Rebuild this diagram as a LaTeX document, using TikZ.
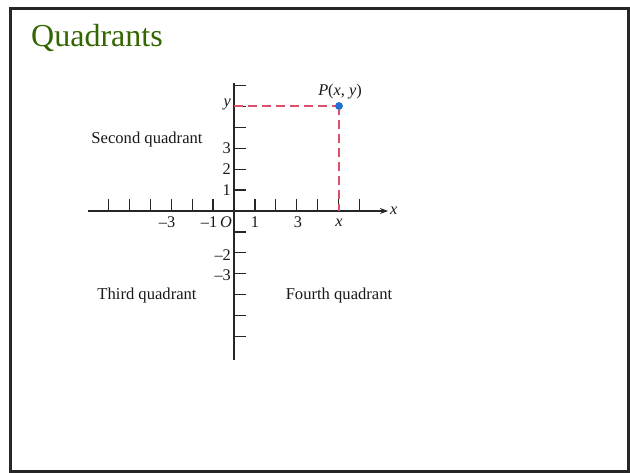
\documentclass[tikz,border=0pt]{standalone}
\usepackage{fontspec}
\setmainfont{Liberation Serif}
\usetikzlibrary{arrows.meta}
\definecolor{titlegreen}{RGB}{51,102,0}
\definecolor{dashred}{RGB}{220,80,105}
\definecolor{dotblue}{RGB}{35,110,210}
\begin{document}
\begin{tikzpicture}[x=1pt,y=-1pt,
  axisline/.style={line width=1.4pt, black!85},
  tickline/.style={line width=1.3pt, black!85},
  dashline/.style={line width=1.3pt, dashred, dash pattern=on 9pt off 5pt},
  lbl/.style={font=\fontsize{16.6}{19}\selectfont, inner sep=0, text=black!90},
  num/.style={font=\fontsize{16.3}{18}\selectfont, inner sep=0, text=black!90},
]
\useasboundingbox (0,0) rectangle (630,473);
\draw[line width=2.5pt, black!85] (10.5,8.7) rectangle (628.7,471.5);
\node[anchor=base west, text=titlegreen, font=\fontsize{32}{36}\selectfont, inner sep=0] (title) at (31,47) {Quadrants};

% axes
\coordinate (xl) at (88,211);
\coordinate (xr) at (388,211);
\coordinate (yt) at (234,83);
\coordinate (yb) at (234,360);
\draw[axisline,-{Stealth[length=8pt,width=6pt]}] (xl) -- (xr);
\draw[axisline] (yt) -- (yb);
\foreach \k in {-6,...,-1,1,2,...,6}
  \draw[tickline] (234+20.9*\k,211) -- ++(0,-12);
\foreach \k in {-6,...,-1,1,2,...,6}
  \draw[tickline] (234,211-20.9*\k) -- ++(12,0);

% x labels
\node[num] (xm3) at (167,222) {–3};
\node[num] (xm1) at (209,222) {–1};
\node[num] (orig) at (226,222) {\itshape O};
\node[num] (x1) at (255,222) {1};
\node[num] (x3) at (298,222) {3};
\node[num] (xx) at (339,223) {\itshape x};
\node[num, anchor=west] (xaxis) at (390,211) {\itshape x};

% y labels
\node[num, anchor=east] (yy) at (231,105) {\itshape y};
\node[num, anchor=east] (y3) at (231,148) {3};
\node[num, anchor=east] (y2) at (231,169) {2};
\node[num, anchor=east] (y1) at (231,190) {1};
\node[num, anchor=east] (ym2) at (231,255) {–2};
\node[num, anchor=east] (ym3) at (231,275) {–3};

% point
\coordinate (ya) at (234,106);
\coordinate (xa) at (339,211);
\node[circle, fill=dotblue, inner sep=0, minimum size=7.5pt] (P) at (339,106) {};
\draw[dashline] (ya) -- (P.center);
\draw[dashline] (P.center) -- (xa);
\node[circle, fill=dotblue, inner sep=0, minimum size=7.5pt] at (P) {};
\node[num] (Plbl) at (340,92) {\itshape P\/\upshape(\itshape x\upshape, \itshape y\/\upshape)};

% quadrant labels
\node[lbl] (q2) at (147,140) {Second quadrant};
\node[lbl] (q3) at (147,296) {Third quadrant};
\node[lbl] (q4) at (339,296) {Fourth quadrant};
\end{tikzpicture}
\end{document}
